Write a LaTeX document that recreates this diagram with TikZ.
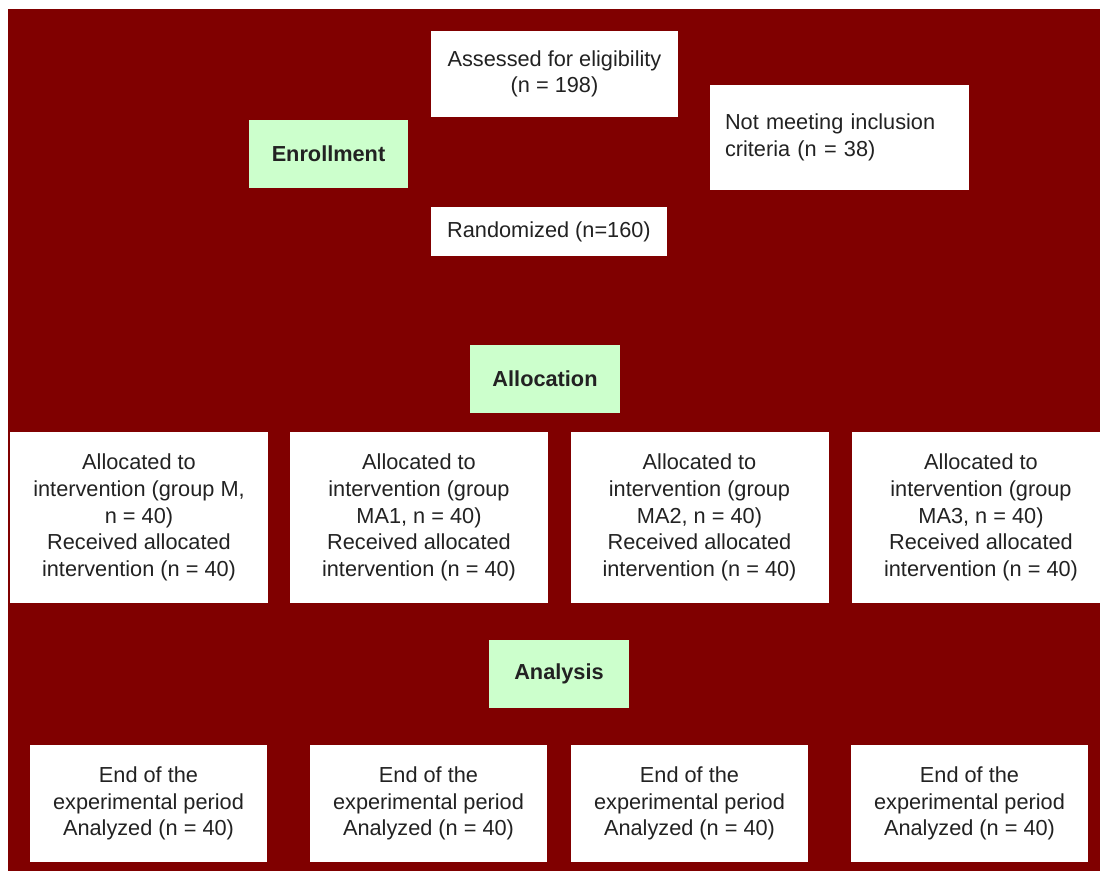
\documentclass[tikz,border=0pt]{standalone}
\usepackage{fontspec}
\setmainfont{Liberation Sans}
\definecolor{darkred}{RGB}{128,0,0}
\definecolor{palegreen}{RGB}{204,255,204}
\definecolor{inkgray}{RGB}{34,34,34}
\begin{document}
\begin{tikzpicture}[x=.75pt,y=-.75pt,
    whitebox/.style={fill=white,text=inkgray,inner sep=0pt,align=center,font=\fontsize{16.3}{20}\selectfont},
    stagebox/.style={fill=palegreen,text=inkgray,inner sep=0pt,minimum height=51pt,font=\fontsize{16.3}{20}\selectfont\bfseries},
    groupbox/.style={whitebox,minimum width=193.5pt,minimum height=128.25pt},
    endbox/.style={whitebox,minimum width=177.75pt,minimum height=87.75pt}]
    \useasboundingbox (0,0) rectangle (1100,871);
    \fill[white] (0,0) rectangle (1100,871);
    \fill[darkred] (8,9) rectangle (1100,871);
    % enrollment
    \node[stagebox,minimum width=119.25pt] (enroll) at (328.5,154) {Enrollment};
    \node[whitebox,minimum width=185.25pt,minimum height=64.5pt] (assess) at (554.5,74) {Assessed for eligibility\\(n = 198)};
    \node[whitebox,align=left,text width=171.75pt,inner xsep=11.25pt,minimum height=78.75pt] (excluded) at (839.5,137.5) {Not meeting inclusion\\criteria (n = 38)};
    \node[whitebox,minimum width=177pt,minimum height=36.75pt] (random) at (549,231.5) {Randomized (n=160)};
    % allocation
    \node[stagebox,minimum width=112.5pt] (alloc) at (545,379) {Allocation};
    \node[groupbox] (groupM) at (139,517.5) {Allocated to\\intervention (group M,\\n = 40)\\Received allocated\\intervention (n = 40)};
    \node[groupbox] (groupMA1) at (419,517.5) {Allocated to\\intervention (group\\MA1, n = 40)\\Received allocated\\intervention (n = 40)};
    \node[groupbox] (groupMA2) at (699.5,517.5) {Allocated to\\intervention (group\\MA2, n = 40)\\Received allocated\\intervention (n = 40)};
    \node[groupbox] (groupMA3) at (981,517.5) {Allocated to\\intervention (group\\MA3, n = 40)\\Received allocated\\intervention (n = 40)};
    % analysis
    \node[stagebox,minimum width=105pt] (analysis) at (559,674) {Analysis};
    \foreach \x [count=\i] in {148.5,428.5,689.5,969.5}
        \node[endbox] (end\i) at (\x,803.5) {End of the\\experimental period\\Analyzed (n = 40)};
\end{tikzpicture}
\end{document}
